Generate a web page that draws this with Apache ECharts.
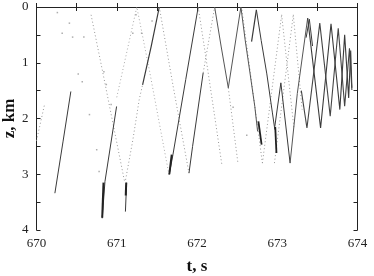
<!DOCTYPE html>
<html>
<head>
<meta charset="utf-8">
<script src="https://cdn.jsdelivr.net/npm/echarts@6/dist/echarts.min.js"></script>
<style>html,body{margin:0;padding:0;background:#fff}#c{width:374px;height:276px}</style>
</head>
<body>
<div id="c"></div>
<script>
// ---- axis ----
const xTicks = [670, 671, 672, 673, 674];
const zTicks = [0, 1, 2, 3, 4];

// ---- solid ray segments [t (s), z (km)] ----
const solidA = [[670.229,3.34],[670.33,2.42],[670.428,1.515]];
const solidB = [[670.819,3.79],[670.853,3.13],[670.998,1.784]];
const solidBthick = [[670.819,3.78],[670.835,3.15]];
const solidC = [[671.108,3.67],[671.123,3.15]];
const solidCthick = [[671.112,3.38],[671.118,3.15]];
const solidD = [[671.322,1.395],[671.43,0.70],[671.53,0.0]];
const solidE = [[671.653,3.01],[671.70,2.65],[671.86,1.30],[672.015,0.0]];
const solidEthick = [[671.655,3.0],[671.685,2.65]];
const solidF = [[671.90,2.98],[671.945,2.50],[672.077,1.18]];
const solidG = [[672.22,0.0],[672.30,0.70],[672.39,1.45],[672.547,0.0]];
const solidH = [[672.547,0.0],[672.60,0.59],[672.66,1.18],[672.72,1.78],[672.755,2.23]];
const solidHthick = [[672.765,2.05],[672.805,2.47]];
const solidI = [[672.68,0.62],[672.74,0.05]];
const solidJ = [[672.74,0.05],[672.80,0.60],[672.87,1.20],[672.94,1.90],[672.97,2.20]];
const solidJthick = [[672.975,2.15],[672.99,2.62]];
const solidK = [[672.97,2.14],[673.045,1.36],[673.16,2.80]];
const solidL = [[673.16,2.80],[673.25,1.55],[673.379,0.20]];
const solidTwin = [[673.36,0.55],[673.40,0.22],[673.44,0.70]];
const zigzag1 = [[673.379,0.20],[673.54,2.17],[673.67,0.30],[673.78,1.84],[673.84,0.50],[673.89,1.63],[673.915,0.78],[673.93,1.45]];
const zigzag2 = [[673.30,1.50],[673.37,2.17],[673.53,0.29],[673.66,1.96],[673.76,0.38],[673.84,1.78],[673.90,0.74],[673.93,1.49]];

// ---- dotted ray segments ----
const dotA = [[670.0,2.40],[670.1,1.75]];
const dotB = [[670.68,0.14],[670.82,1.13],[671.10,3.15]];
const dotC = [[671.11,3.10],[671.20,2.39],[671.28,1.66],[671.322,1.395]];
const dotD = [[671.00,1.62],[671.25,0.0],[671.41,1.16],[671.65,3.0]];
const dotE = [[671.53,0.0],[671.70,1.40],[671.90,2.98]];
const dotF = [[672.077,1.18],[672.22,0.0]];
const dotG = [[672.015,0.0],[672.10,0.80],[672.31,2.83]];
const dotH = [[672.39,1.45],[672.51,2.80]];
const dotI = [[672.56,0.05],[672.815,2.80]];
const dotJ = [[672.815,2.80],[673.055,0.14]];
const dotK = [[672.965,2.80],[673.20,0.14]];
const dotL = [[673.055,0.14],[673.21,2.20]];
const dotM = [[673.20,0.14],[673.31,1.84]];

// ---- isolated points ----
const strayDots = [[670.41,0.29],[670.32,0.47],[670.45,0.54],[670.59,0.54],[670.57,1.34],[670.66,1.93],
  [670.75,2.56],[670.78,2.95],[670.87,1.39],[670.84,1.16],[670.93,1.75],[671.20,0.47],[671.31,0.47],
  [671.24,0.14],[670.26,0.10],[670.52,1.20],[671.44,0.25],[672.45,1.80],[672.62,2.30]];

const SOLID = '#3a3a3a', DOT = '#969696';
function ln(data, w, col, dash) {
  return {type:'line', data:data, showSymbol:false, silent:true, animation:false, z:dash?2:3,
    lineStyle:{color:col, width:w, type:dash?[1,2.5]:'solid'}};
}
const series = [
  ln(solidA,1,SOLID),ln(solidB,1,SOLID),ln(solidBthick,2,'#222'),ln(solidC,1,SOLID),ln(solidCthick,2,'#222'),
  ln(solidD,1.2,SOLID),ln(solidE,1,SOLID),ln(solidEthick,2,'#222'),ln(solidF,1,SOLID),ln(solidG,1,'#555'),
  ln(solidH,1,'#555'),ln(solidHthick,1.8,'#222'),ln(solidI,1.2,SOLID),ln(solidJ,1,SOLID),ln(solidJthick,1.8,'#222'),
  ln(solidK,1,SOLID),ln(solidL,1,'#555'),ln(solidTwin,1,SOLID),ln(zigzag1,1.1,SOLID),ln(zigzag2,1.1,'#444'),
  ln(dotA,1,DOT,true),ln(dotB,1,DOT,true),ln(dotC,1,DOT,true),ln(dotD,1,'#aaa',true),ln(dotE,1,DOT,true),
  ln(dotF,1,DOT,true),ln(dotG,1,DOT,true),ln(dotH,1,DOT,true),ln(dotI,1,DOT,true),ln(dotJ,1,DOT,true),
  ln(dotK,1,DOT,true),ln(dotL,1,DOT,true),ln(dotM,1,DOT,true),
  {type:'scatter', data:strayDots, symbol:'rect', symbolSize:1.5, silent:true, animation:false, itemStyle:{color:'#999'}}
];

const FONT = 'Liberation Serif';
const axLine = {show:true, lineStyle:{color:'#222', width:1}};
const tick = {show:true, inside:true, length:4, lineStyle:{color:'#222'}};
const intLabel = function (v) { return Math.abs(v - Math.round(v)) < 1e-6 ? String(Math.round(v)) : ''; };
const chart = echarts.init(document.getElementById('c'), null, {renderer:'canvas'});
chart.setOption({
  animation:false,
  grid:{left:36.5, right:16.5, top:7, bottom:46, containLabel:false, outerBoundsMode:'none'},
  xAxis:[
    {type:'value', min:xTicks[0], max:xTicks[xTicks.length-1], interval:0.5, position:'bottom',
     axisLine:axLine, axisTick:tick, splitLine:{show:false},
     axisLabel:{margin:7, fontFamily:FONT, fontSize:13, color:'#222', formatter:intLabel},
     name:'t, s', nameLocation:'middle', nameGap:28,
     nameTextStyle:{fontFamily:FONT, fontSize:17, fontWeight:'bold', color:'#111'}},
    {type:'value', min:xTicks[0], max:xTicks[xTicks.length-1], interval:0.5, position:'top',
     axisLine:axLine, axisTick:tick, splitLine:{show:false}, axisLabel:{show:false}}
  ],
  yAxis:[
    {type:'value', min:zTicks[0], max:zTicks[zTicks.length-1], interval:0.5, inverse:true, position:'left',
     axisLine:axLine, axisTick:tick, splitLine:{show:false},
     axisLabel:{margin:8, fontFamily:FONT, fontSize:13, color:'#222', formatter:intLabel},
     name:'z, km', nameLocation:'middle', nameGap:18, nameRotate:90, nameMoveOverlap:false,
     nameTextStyle:{fontFamily:FONT, fontSize:17, fontWeight:'bold', color:'#111'}},
    {type:'value', min:zTicks[0], max:zTicks[zTicks.length-1], interval:0.5, inverse:true, position:'right',
     axisLine:axLine, axisTick:tick, splitLine:{show:false}, axisLabel:{show:false}}
  ],
  series:series
});
</script>
</body>
</html>
